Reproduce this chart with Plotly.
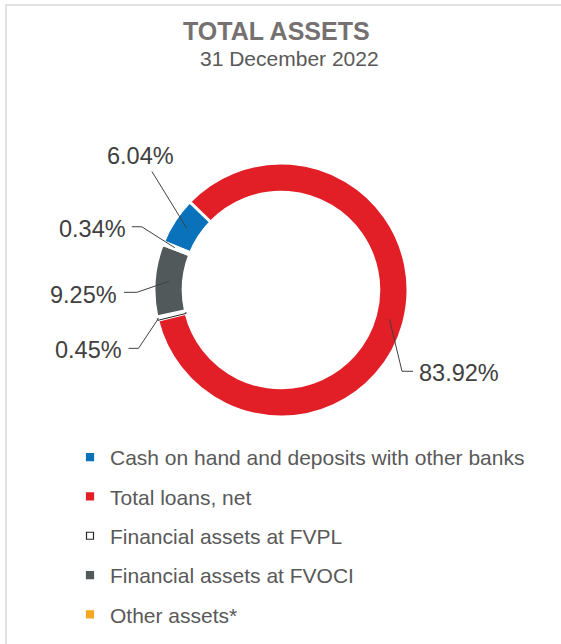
import math
import plotly.graph_objects as go

categories = ["Cash on hand and deposits with other banks", "Total loans, net",
              "Financial assets at FVPL", "Financial assets at FVOCI", "Other assets*"]
values = [6.04, 83.92, 0.45, 9.25, 0.34]
colors = ["#0A72BA", "#E21E26", "#FFFFFF", "#52595B", "#F6A623"]
line_colors = ["#FFFFFF", "#FFFFFF", "#262626", "#FFFFFF", "#FFFFFF"]
line_widths = [3, 3, 1, 3, 3]
text_labels = [f"{v:.2f}%" for v in values]

W, H = 561, 644
CX, CY, R = 281, 290, 127          # pie centre / outer radius (px)
HOLE = 0.77
ROT = 292.3                        # start angle of first slice, clockwise from 12 o'clock

# leader-line layout per label:
# (radius fraction of line end on slice, elbow offset x, y from slice point,
#  horizontal segment length, text xanchor, yanchor, text shift x, y)
label_layout = [
    (0.885, -35, -57, 0, "center", "bottom", -11, -1),
    (0.885, 12.5, 52, 11, "left", "middle", 4, 2),
    (0.99, -20, 30, -10, "right", "middle", -5, 2),
    (0.885, -32, 11, -13, "right", "middle", -5, 3),
    (0.9, -33, -21, -10, "right", "middle", -4, 2),
]

fig = go.Figure()
fig.add_trace(go.Pie(
    labels=categories, values=values, sort=False, direction="clockwise",
    rotation=ROT, hole=HOLE,
    marker=dict(colors=colors, line=dict(color=line_colors, width=line_widths)),
    textinfo="none", showlegend=False, hoverinfo="label+value",
    domain=dict(x=[(CX - R) / W, (CX + R) / W], y=[1 - (CY + R) / H, 1 - (CY - R) / H]),
))

for name, c in zip(categories, colors):
    fig.add_trace(go.Scatter(
        x=[None], y=[None], mode="markers", name=name, legendgroup=name,
        marker=dict(symbol="square", size=7, color=c,
                    line=dict(color="#262626" if c == "#FFFFFF" else c, width=1.2)),
    ))

annotations = [
    dict(text="<b>TOTAL ASSETS</b>", x=276 / W, y=1 - 31 / H, xref="paper", yref="paper",
         yanchor="middle", showarrow=False, font=dict(size=25, color="#767171")),
    dict(text="31 December 2022", x=289 / W, y=1 - 58 / H, xref="paper", yref="paper",
         yanchor="middle", showarrow=False, font=dict(size=21, color="#595959")),
]
shapes = [dict(type="rect", xref="paper", yref="paper", x0=6 / W, x1=1.05, y0=-0.05, y1=1 - 5 / H,
               line=dict(color="#D9D9D9", width=1.5))]


def to_paper(px, py):
    return px / W, 1 - py / H


total = sum(values)
cum = 0.0
for v, t, (rf, ex, ey, hl, xa, ya, tx, ty) in zip(values, text_labels, label_layout):
    mid = math.radians(ROT + (cum + v / 2) / total * 360)
    cum += v
    p = (CX + rf * R * math.sin(mid), CY - rf * R * math.cos(mid))
    e = (p[0] + ex, p[1] + ey)
    f = (e[0] + hl, e[1])
    pts = [to_paper(*q) for q in (p, e, f)]
    path = "M {:.5f},{:.5f} L {:.5f},{:.5f} L {:.5f},{:.5f}".format(*pts[0], *pts[1], *pts[2])
    shapes.append(dict(type="path", xref="paper", yref="paper", path=path,
                       line=dict(color="#404040", width=1)))
    lx, ly = to_paper(f[0] + tx, f[1] + ty)
    annotations.append(dict(
        text=t, x=lx, y=ly, xref="paper", yref="paper", xanchor=xa, yanchor=ya,
        showarrow=False,
        font=dict(family="Liberation Sans, Arial", size=23.5, color="#404040"),
    ))

fig.update_layout(
    width=W, height=H, margin=dict(l=0, r=0, t=0, b=0),
    paper_bgcolor="white", plot_bgcolor="white",
    xaxis=dict(visible=False), yaxis=dict(visible=False),
    font=dict(family="Liberation Sans, Arial", color="#595959"),
    legend=dict(x=70 / W, xanchor="left", y=1 - 437 / H, yanchor="top",
                font=dict(size=21, color="#595959"), tracegroupgap=9,
                itemclick=False, itemdoubleclick=False),
    annotations=annotations,
    shapes=shapes,
)

fig.write_html("out.html", config={"displayModeBar": False},
               post_script="document.body.style.margin='0';")
